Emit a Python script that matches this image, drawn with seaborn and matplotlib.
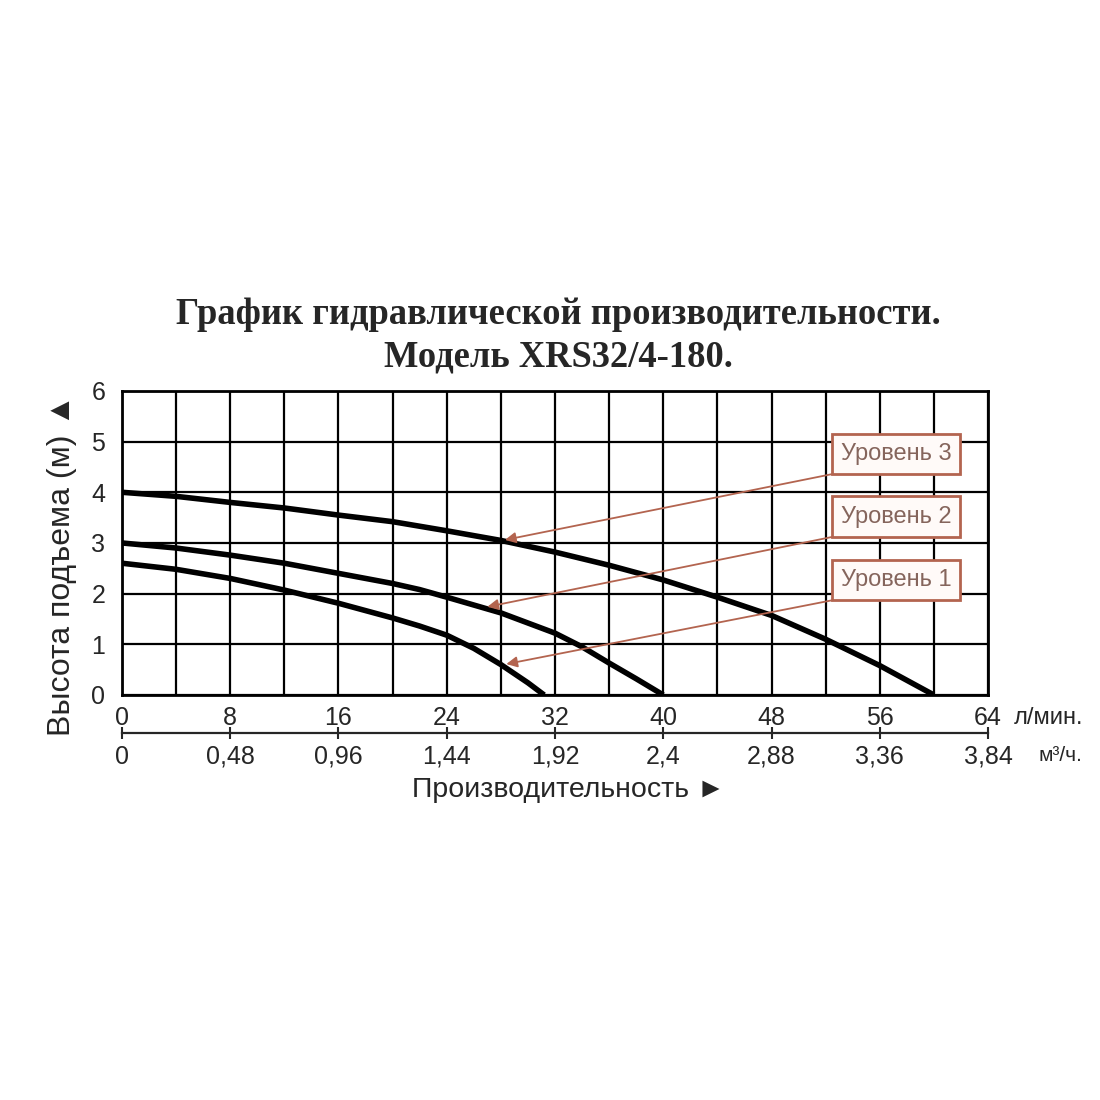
import numpy as np
import pandas as pd
import seaborn as sns
import matplotlib.pyplot as plt
from matplotlib.patches import Rectangle

# Curve data (flow in l/min, head in m)
flow_l1 = [0, 4, 8, 12, 16, 20, 22, 24, 26, 28, 30, 31.2]
head_l1 = [2.6, 2.48, 2.3, 2.07, 1.81, 1.52, 1.36, 1.18, 0.92, 0.6, 0.24, 0]

flow_l2 = [0, 4, 8, 12, 16, 20, 22, 24, 28, 32, 34, 36, 38, 40]
head_l2 = [3.0, 2.9, 2.76, 2.6, 2.4, 2.2, 2.08, 1.93, 1.62, 1.22, 0.95, 0.63, 0.32, 0]

flow_l3 = [0, 4, 8, 12, 16, 20, 24, 28, 32, 36, 40, 44, 48, 52, 56, 60]
head_l3 = [4.0, 3.92, 3.8, 3.69, 3.55, 3.42, 3.24, 3.05, 2.82, 2.56, 2.27, 1.93, 1.57, 1.1, 0.58, 0]

levels = ["Уровень 1", "Уровень 2", "Уровень 3"]
# where each callout arrow points on its curve
arrow_x = [28.4, 27.0, 28.3]
arrow_y = [0.61, 1.74, 3.06]

x_ticks = [0, 8, 16, 24, 32, 40, 48, 56, 64]
m3_ticks = [0, 0.48, 0.96, 1.44, 1.92, 2.4, 2.88, 3.36, 3.84]
m3_labels = ["0", "0,48", "0,96", "1,44", "1,92", "2,4", "2,88", "3,36", "3,84"]

df = pd.concat([
    pd.DataFrame({"flow": flow_l1, "head": head_l1, "level": levels[0]}),
    pd.DataFrame({"flow": flow_l2, "head": head_l2, "level": levels[1]}),
    pd.DataFrame({"flow": flow_l3, "head": head_l3, "level": levels[2]}),
])

sns.set_style("white")
narrow = ["Liberation Sans Narrow", "Liberation Sans", "DejaVu Sans"]
plt.rcParams["font.family"] = narrow

brown = "#b3644f"
label_col = "#85655c"

fig = plt.figure(figsize=(11, 11), dpi=100)
ax = fig.add_axes([0.1109, 0.3682, 0.7873, 0.2764])

sns.lineplot(data=df, x="flow", y="head", units="level", estimator=None,
             color="black", lw=4, sort=False, ax=ax, zorder=3,
             solid_capstyle="butt")

ax.set_xlim(0, 64)
ax.set_ylim(0, 6)
ax.set_xticks(x_ticks)
ax.set_xticks(np.arange(0, 65, 4), minor=True)
ax.set_yticks(range(0, 7))
ax.grid(True, which="both", color="black", lw=1.6)
ax.tick_params(axis="both", which="both", length=0, labelsize=18)
ax.tick_params(axis="x", pad=8)
ax.tick_params(axis="y", pad=12)
ax.set_xlabel("")
ax.set_ylabel("")
for s in ax.spines.values():
    s.set_color("black")
    s.set_linewidth(2)

# second flow scale in m3/h
sec = ax.secondary_xaxis(-0.125, functions=(lambda x: x * 0.06, lambda x: x / 0.06))
sec.set_xticks(m3_ticks)
sec.set_xticklabels(m3_labels)
sec.tick_params(direction="inout", length=9, width=1.5, labelsize=18, pad=4)
sec.spines["bottom"].set_linewidth(1.6)

# callout boxes with arrows
box_y = [1.87, 3.12, 4.36]
for name, tx, ty, by in zip(levels, arrow_x, arrow_y, box_y):
    ax.add_patch(Rectangle((52.5, by), 9.4, 0.8, facecolor="#fffaf8",
                           edgecolor=brown, lw=2, zorder=5))
    ax.text(57.2, by + 0.4, name, ha="center", va="center", fontsize=17,
            color=label_col, zorder=6)
    ax.annotate("", xy=(tx, ty), xytext=(52.5, by),
                arrowprops=dict(arrowstyle="-|>", color=brown, lw=1.3,
                                mutation_scale=16, shrinkA=0, shrinkB=0),
                zorder=4)

fig.text(0.508, 0.695, "График гидравлической производительности.\nМодель XRS32/4-180.",
         ha="center", va="center", fontsize=26.3, fontweight="bold",
         family=["Liberation Serif", "DejaVu Serif"], linespacing=1.28)
fig.text(0.056, 0.486, "Высота подъема (м) ▲", rotation=90, ha="center",
         va="center", fontsize=23, family=narrow)
fig.text(0.517, 0.282, "Производительность ►", ha="center", va="center",
         fontsize=20.5, family=narrow)
fig.text(0.922, 0.347, "л/мин.", ha="left", va="center", fontsize=17, family=narrow)
fig.text(0.944, 0.313, "м³/ч.", ha="left", va="center", fontsize=15, family=narrow)

fig.savefig("out.png", dpi=100, facecolor="white")
